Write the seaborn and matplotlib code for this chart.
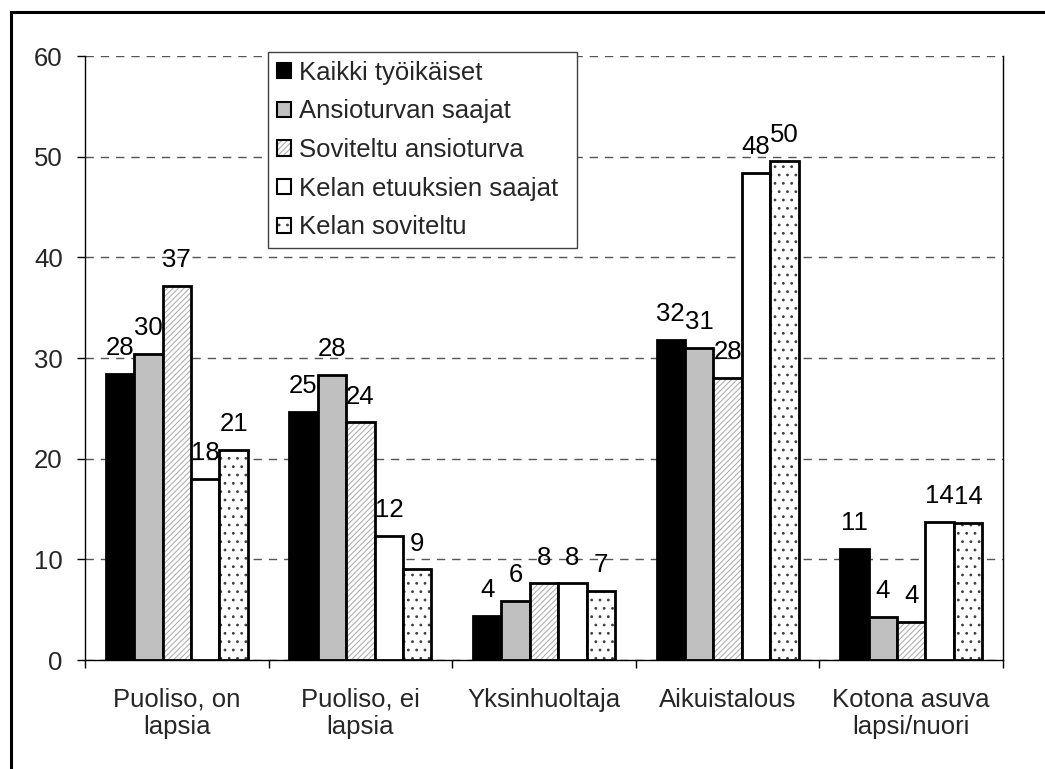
import matplotlib
matplotlib.use("Agg")
import matplotlib.pyplot as plt
import matplotlib.patches as mpatches
import matplotlib.colors as mcolors
import numpy as np
import pandas as pd
import seaborn as sns

# data (%)
categories = ["Puoliso, on\nlapsia", "Puoliso, ei\nlapsia", "Yksinhuoltaja",
              "Aikuistalous", "Kotona asuva\nlapsi/nuori"]
series = ["Kaikki työikäiset", "Ansioturvan saajat", "Soviteltu ansioturva",
          "Kelan etuuksien saajat", "Kelan soviteltu"]
kaikki = [28.4, 24.6, 4.4, 31.8, 11.0]
ansio = [30.4, 28.3, 5.9, 31.0, 4.3]
soviteltu = [37.2, 23.6, 7.6, 28.0, 3.8]
kela = [18.0, 12.3, 7.6, 48.4, 13.7]
kela_sov = [20.9, 9.0, 6.9, 49.6, 13.6]
yticks = [0, 10, 20, 30, 40, 50, 60]

values = [kaikki, ansio, soviteltu, kela, kela_sov]
df = pd.DataFrame({
    "ryhma": categories * len(series),
    "sarja": [s for s in series for _ in categories],
    "osuus": [v for vals in values for v in vals],
})

faces = ["#000000", "#c0c0c0", "#ffffff", "#ffffff", "#ffffff"]
hatches = [None, None, "//////", None, ".."]
hatch_cols = ["black", "black", "#b0b0b0", "black", "#404040"]

sns.set_theme(style="white")
plt.rcParams["font.family"] = ["Liberation Sans", "DejaVu Sans"]
plt.rcParams["hatch.linewidth"] = 0.8
FS = 18.5

fig = plt.figure(figsize=(10.45, 7.69), dpi=100)
ax = fig.add_axes([85 / 1045, 109 / 769, 918 / 1045, 604 / 769])

sns.barplot(data=df, x="ryhma", y="osuus", hue="sarja", order=categories,
            hue_order=series, palette=faces, saturation=1, width=0.774,
            edgecolor="black", linewidth=2, legend=False, ax=ax, zorder=3)

for i, cont in enumerate(ax.containers):
    for p in cont.patches:
        if hatches[i]:
            p.set_hatch(hatches[i])
            p._hatch_color = mcolors.to_rgba(hatch_cols[i])
    ax.bar_label(cont, fmt="%.0f", padding=10, fontsize=FS, color="black")

ax.set_ylim(0, 60)
ax.set_xlim(-0.5, len(categories) - 0.5)
ax.set_yticks(yticks)
ax.set_yticklabels([str(t) for t in yticks], fontsize=FS)
ax.set_xticks(range(len(categories)))
ax.set_xticklabels(categories, fontsize=FS, linespacing=1.15)
ax.set_xticks(np.arange(-0.5, len(categories)), minor=True)
ax.tick_params(axis="x", which="major", length=0, pad=20)
ax.tick_params(axis="x", which="minor", length=6, width=1, direction="out",
               color="black", bottom=True)
ax.tick_params(axis="y", length=6, width=1, direction="out", color="black",
               left=True, pad=10)
ax.set_xlabel("")
ax.set_ylabel("")

ax.yaxis.grid(True, color="#555555", linestyle=(0, (6, 5)), linewidth=1)
ax.set_axisbelow(True)
for side in ["left", "bottom", "right"]:
    ax.spines[side].set_visible(True)
    ax.spines[side].set_color("black")
    ax.spines[side].set_linewidth(1)
ax.spines["top"].set_visible(False)

handles = []
for i, s in enumerate(series):
    h = mpatches.Patch(facecolor=faces[i], edgecolor="black", linewidth=1.5,
                       hatch=hatches[i], label=s)
    if hatches[i]:
        h._hatch_color = mcolors.to_rgba(hatch_cols[i])
    handles.append(h)
leg = ax.legend(handles=handles, loc="upper left",
                bbox_to_anchor=(183 / 918, 0, 309 / 918, 1.007), mode="expand",
                borderaxespad=0, fontsize=FS, frameon=True, fancybox=False,
                framealpha=1, edgecolor="#404040", handlelength=0.55,
                handleheight=0.55, handletextpad=0.3, labelspacing=0.57,
                borderpad=0.35)
leg.get_frame().set_linewidth(1)
leg.set_zorder(5)

# outer frame of the chart area
fig.patches.append(mpatches.Rectangle((10.5 / 1045, -0.1), 1.2,
                                      1.1 - 12.5 / 769, transform=fig.transFigure,
                                      fill=False, edgecolor="black", linewidth=2.2))

fig.savefig("out.png", dpi=100)
